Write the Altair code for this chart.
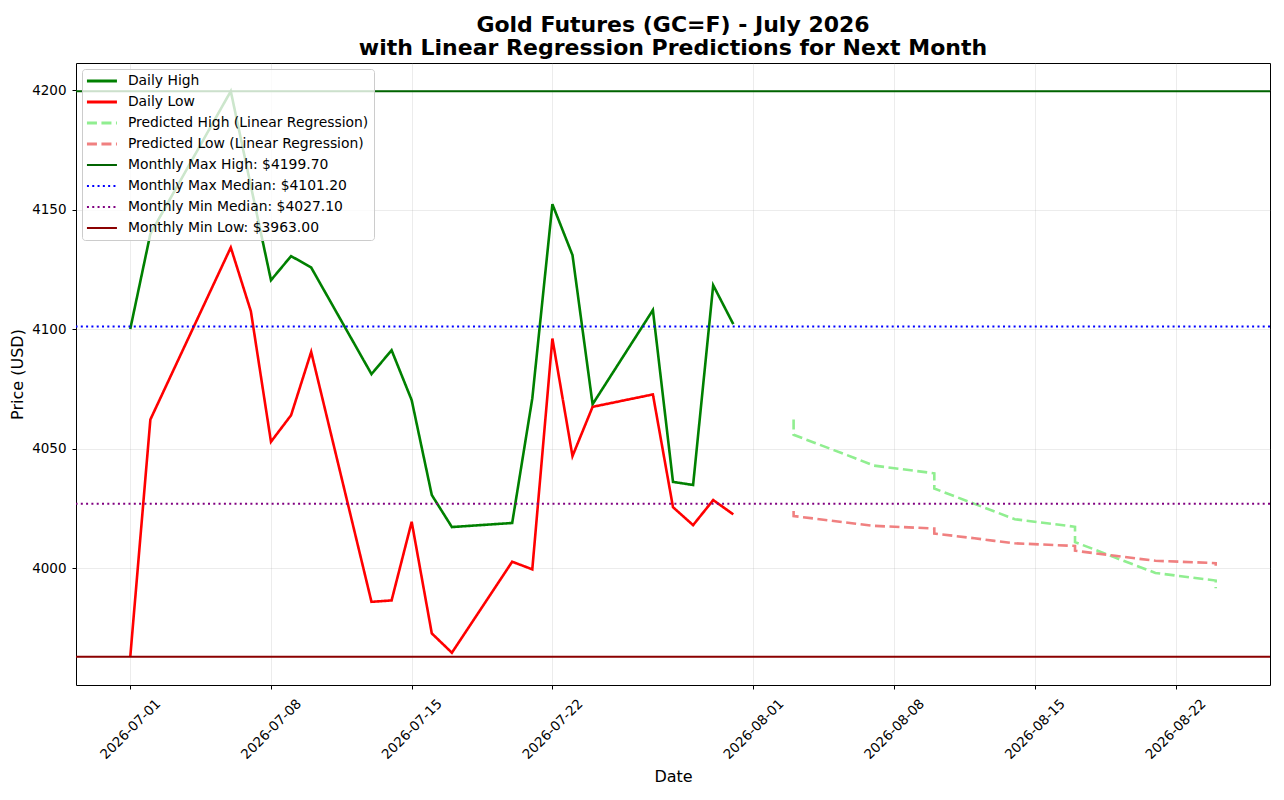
import altair as alt
import pandas as pd

# ---------------- data ----------------
hist_dates = ["2026-07-01", "2026-07-02", "2026-07-06", "2026-07-07", "2026-07-08",
              "2026-07-09", "2026-07-10", "2026-07-13", "2026-07-14", "2026-07-15",
              "2026-07-16", "2026-07-17", "2026-07-20", "2026-07-21", "2026-07-22",
              "2026-07-23", "2026-07-24", "2026-07-27", "2026-07-28", "2026-07-29",
              "2026-07-30", "2026-07-31"]
daily_high = [4100.2, 4140.0, 4199.7, 4160.0, 4120.6, 4130.7, 4125.9, 4081.3, 4091.3, 4070.4,
              4030.7, 4017.3, 4019.0, 4071.1, 4152.4, 4131.1, 4068.7, 4108.1, 4036.2, 4034.9,
              4118.5, 4102.2]
daily_low = [3963.0, 4062.3, 4134.3, 4107.6, 4053.0, 4064.1, 4090.6, 3986.0, 3986.6, 4019.5,
             3972.8, 3964.7, 4002.8, 3999.6, 4096.2, 4047.0, 4067.6, 4072.8, 4025.6, 4018.1,
             4028.6, 4022.6]

pred_dates = ["2026-08-03", "2026-08-03", "2026-08-03", "2026-08-04", "2026-08-05",
              "2026-08-06", "2026-08-07", "2026-08-10", "2026-08-10", "2026-08-10",
              "2026-08-11", "2026-08-12", "2026-08-13", "2026-08-14", "2026-08-17",
              "2026-08-17", "2026-08-17", "2026-08-18", "2026-08-19", "2026-08-20",
              "2026-08-21", "2026-08-24", "2026-08-24"]
pred_high = [4062.3, 4059.1, 4055.9, 4052.7, 4049.5, 4046.3, 4043.0, 4039.8, 4036.6, 4033.4,
             4030.2, 4027.0, 4023.8, 4020.6, 4017.4, 4014.2, 4011.0, 4007.8, 4004.5, 4001.3,
             3998.1, 3994.9, 3991.7]
pred_low = [4024.0, 4023.0, 4021.9, 4020.9, 4019.8, 4018.8, 4017.8, 4016.7, 4015.7, 4014.6,
            4013.6, 4012.6, 4011.5, 4010.5, 4009.4, 4008.4, 4007.4, 4006.3, 4005.3, 4004.2,
            4003.2, 4002.2, 4001.1]

ref_names = ["Monthly Max High", "Monthly Max Median", "Monthly Min Median", "Monthly Min Low"]
ref_values = [4199.70, 4101.20, 4027.10, 3963.00]

series_names = ["Daily High", "Daily Low",
                "Predicted High (Linear Regression)", "Predicted Low (Linear Regression)"]
ref_labels = [f"{n}: ${v:.2f}" for n, v in zip(ref_names, ref_values)]
legend_order = series_names + ref_labels
colors = ["#008000", "#ff0000", "#90ee90", "#f08080",
          "#006400", "#0000ff", "#800080", "#8b0000"]
dashes = [[1, 0], [1, 0], [10, 4.5], [10, 4.5], [1, 0], [2, 3.3], [2, 3.3], [1, 0]]

x_ticks = ["2026-07-01", "2026-07-08", "2026-07-15", "2026-07-22",
           "2026-08-01", "2026-08-08", "2026-08-15", "2026-08-22"]
y_ticks = [4000, 4050, 4100, 4150, 4200]

# ---------------- tables ----------------
rows = []
for name, dates, vals in [(series_names[0], hist_dates, daily_high),
                          (series_names[1], hist_dates, daily_low),
                          (series_names[2], pred_dates, pred_high),
                          (series_names[3], pred_dates, pred_low)]:
    for i, (d, v) in enumerate(zip(dates, vals)):
        rows.append({"date": d, "price": v, "series": name, "idx": i})
lines_df = pd.DataFrame(rows)
ref_df = pd.DataFrame({"series": ref_labels, "price": ref_values})


def dt(s, h=0, m=0):
    y, mo, d = (int(p) for p in s.split("-"))
    return alt.DateTime(year=y, month=mo, date=d, hours=h, minutes=m, utc=True)


FONT = "DejaVu Sans"

x_enc = alt.X(
    "date:T",
    title="Date",
    scale=alt.Scale(type="utc", domain=[dt("2026-06-28", 7, 12), dt("2026-08-26", 16, 48)]),
    axis=alt.Axis(values=[dt(s) for s in x_ticks],
                  labelExpr="utcFormat(datum.value, '%Y-%m-%d')",
                  labelAngle=-45, labelAlign="center", labelBaseline="middle",
                  labelPadding=40, labelOverlap=False, labelFlush=False,
                  titleY=96, titleBaseline="alphabetic", titleFontSize=16),
)
y_enc = alt.Y(
    "price:Q",
    title="Price (USD)",
    scale=alt.Scale(domain=[3951.2, 4211.5], nice=False, zero=False),
    axis=alt.Axis(values=y_ticks, format="d", labelPadding=6,
                  titleX=-54, titleY=311, titleBaseline="alphabetic", titleAngle=270,
                  titleFontSize=16),
)

legend = alt.Legend(title=None, orient="top-left", offset=6)
color_enc = alt.Color("series:N", scale=alt.Scale(domain=legend_order, range=colors), legend=legend)
dash_enc = alt.StrokeDash("series:N", scale=alt.Scale(domain=legend_order, range=dashes), legend=legend)

lines = alt.Chart(lines_df).mark_line(strokeWidth=2.6, clip=True).encode(
    x=x_enc, y=y_enc, color=color_enc, strokeDash=dash_enc, order="idx:Q"
)
rules = alt.Chart(ref_df).mark_rule(strokeWidth=2).encode(
    y=alt.Y("price:Q"), color=color_enc, strokeDash=dash_enc
)

chart = (
    alt.layer(lines, rules)
    .properties(
        width=1194, height=622,
        autosize=alt.AutoSizeParams(type="none"),
        padding={"left": 68, "top": 55, "right": 6, "bottom": 100},
        title=alt.TitleParams(
            text=["Gold Futures (GC=F) - July 2026",
                  "with Linear Regression Predictions for Next Month"],
            font=FONT, fontSize=22, fontWeight="bold", color="black",
            anchor="middle", frame="group", offset=3, lineHeight=23,
        ),
    )
    .configure_view(stroke="black", strokeWidth=1)
    .configure_axis(
        labelFont=FONT, labelFontSize=13.5, labelColor="black",
        titleFont=FONT, titleFontWeight="normal", titleColor="black",
        tickColor="black", tickSize=4, tickWidth=1, domain=False,
        gridColor="#b0b0b0", gridOpacity=0.3, gridWidth=0.8,
    )
    .configure_legend(
        labelFont=FONT, labelFontSize=13.9, labelColor="black", labelLimit=0,
        symbolType="M-2,0L2,0", symbolSize=225, symbolOffset=8, labelOffset=19,
        symbolStrokeWidth=alt.ExprRef("datum.index < 4 ? 3 : 2"),
        rowPadding=6, padding=5, cornerRadius=3,
        strokeColor="#cccccc", fillColor="rgba(255,255,255,0.8)",
    )
)

chart.save("out.html", embed_options={"renderer": "svg", "actions": False})
